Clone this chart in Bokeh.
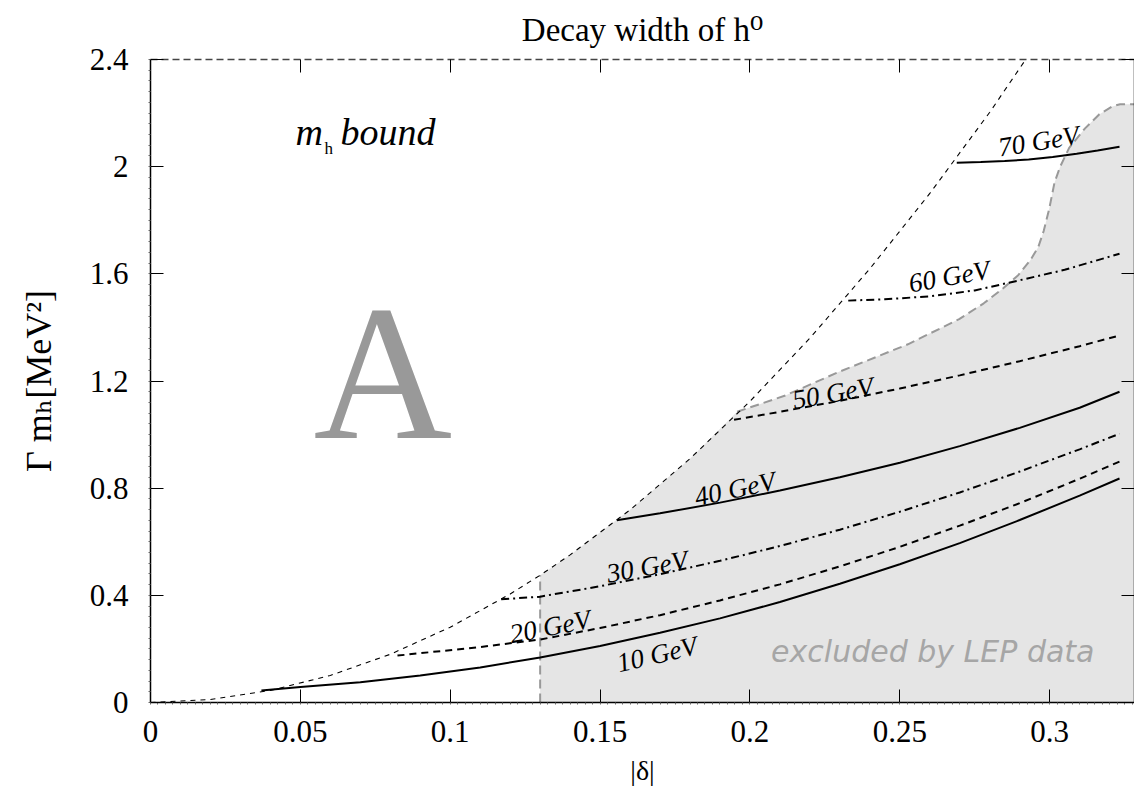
from bokeh.plotting import figure
from bokeh.models import Range1d, LinearAxis, FixedTicker, Label
from bokeh.core.properties import value
from bokeh.embed import file_html
from bokeh.resources import INLINE

# ---------------- data ----------------
x_ticks = [0, 0.05, 0.1, 0.15, 0.2, 0.25, 0.3]
x_tick_labels = ["0", "0.05", "0.1", "0.15", "0.2", "0.25", "0.3"]
y_ticks = [0, 0.4, 0.8, 1.2, 1.6, 2.0, 2.4]
y_tick_labels = ["0", "0.4", "0.8", "1.2", "1.6", "2", "2.4"]
x_max = 0.3283
y_max = 2.4

# m_h bound (thin dashed)
bound_x = [0.0, 0.02, 0.04, 0.06, 0.08, 0.1, 0.12, 0.13, 0.14, 0.16, 0.18, 0.2, 0.22, 0.24, 0.26, 0.28, 0.292]
bound_y = [0.0, 0.011, 0.045, 0.101, 0.18, 0.281, 0.405, 0.475, 0.551, 0.719, 0.91, 1.124, 1.36, 1.619, 1.9, 2.203, 2.4]

# LEP excluded region boundary
lep_edge_x = [0.13, 0.13]
lep_edge_y = [0.0, 0.475]
lep_x = [0.1957, 0.2118, 0.2299, 0.2527, 0.2698, 0.278, 0.2845, 0.2895, 0.2935, 0.2962, 0.298,
         0.2998, 0.3016, 0.3035, 0.3065, 0.3118, 0.3165, 0.3209, 0.3235, 0.3283]
lep_y = [1.085, 1.146, 1.235, 1.337, 1.431, 1.49, 1.546, 1.595, 1.65, 1.70, 1.76,
         1.84, 1.94, 2.0, 2.07, 2.143, 2.195, 2.225, 2.233, 2.233]

# curves of constant m_h
m10_x = [0.037, 0.05, 0.07, 0.09, 0.11, 0.13, 0.15, 0.17, 0.19, 0.21, 0.23, 0.25, 0.27, 0.29, 0.31, 0.3233]
m10_y = [0.045, 0.058, 0.076, 0.101, 0.131, 0.168, 0.211, 0.26, 0.314, 0.375, 0.443, 0.516, 0.595, 0.681, 0.772, 0.836]
m20_x = [0.0824, 0.09, 0.11, 0.13, 0.15, 0.17, 0.19, 0.21, 0.23, 0.25, 0.27, 0.29, 0.31, 0.3233]
m20_y = [0.175, 0.184, 0.207, 0.235, 0.278, 0.326, 0.381, 0.441, 0.508, 0.581, 0.66, 0.744, 0.835, 0.899]
m30_x = [0.117, 0.13, 0.15, 0.17, 0.19, 0.21, 0.23, 0.25, 0.27, 0.29, 0.31, 0.3233]
m30_y = [0.385, 0.395, 0.434, 0.479, 0.529, 0.584, 0.645, 0.712, 0.784, 0.862, 0.945, 1.003]
m40_x = [0.1556, 0.17, 0.19, 0.21, 0.23, 0.25, 0.27, 0.29, 0.31, 0.3233]
m40_y = [0.68, 0.706, 0.746, 0.791, 0.841, 0.895, 0.957, 1.025, 1.1, 1.16]
m50_x = [0.1947, 0.21, 0.23, 0.25, 0.27, 0.29, 0.31, 0.3233]
m50_y = [1.055, 1.085, 1.126, 1.172, 1.221, 1.274, 1.33, 1.37]
m60_x = [0.2328, 0.245, 0.26, 0.275, 0.29, 0.305, 0.3233]
m60_y = [1.5, 1.505, 1.516, 1.538, 1.576, 1.615, 1.675]
m70_x = [0.269, 0.277, 0.285, 0.293, 0.301, 0.309, 0.316, 0.3233]
m70_y = [2.015, 2.017, 2.021, 2.027, 2.036, 2.048, 2.06, 2.074]

label_text = ["10 GeV", "20 GeV", "30 GeV", "40 GeV", "50 GeV", "60 GeV", "70 GeV"]
label_x = [0.169, 0.1333, 0.1657, 0.195, 0.2277, 0.2665, 0.2963]
label_y = [0.18, 0.283, 0.507, 0.797, 1.155, 1.59, 2.095]
label_angle = [13, 11, 10, 12, 10, 10, 9]

# ---------------- figure ----------------
SERIF = "Liberation Serif"
SERIF_FB = "Liberation Serif, DejaVu Serif"
BASE = 0.33  # baseline correction factor (fraction of font size)

p = figure(width=1134, height=788,
           x_range=Range1d(0, x_max), y_range=Range1d(0, y_max),
           output_backend="svg", toolbar_location=None,
           min_border_left=150, min_border_right=0,
           min_border_top=59, min_border_bottom=85)
p.xgrid.visible = False
p.ygrid.visible = False
p.outline_line_color = None
p.background_fill_color = "white"
p.border_fill_color = "white"

p.title.text = "Decay width of h\u2070"
p.title.align = "center"
p.title.vertical_align = "top"
p.title.text_font = SERIF_FB
p.title.text_font_size = "33px"
p.title.text_font_style = "normal"
p.title.text_color = "black"
p.title.standoff = 19

x_minor = [i * 0.0025 for i in range(0, 132)]
y_minor = [i * 0.04 for i in range(0, 61)]


def style_axis(ax, ticks, labels, minor, show_labels=True):
    ax.ticker = FixedTicker(ticks=ticks, minor_ticks=minor)
    if show_labels:
        ax.major_label_overrides = {t: l for t, l in zip(ticks, labels)}
        ax.major_label_text_font_size = "31px"
    else:
        ax.major_label_overrides = {t: "" for t in ticks}
        ax.major_label_text_font_size = "0px"
        ax.major_label_standoff = 0
    ax.major_label_text_font = SERIF
    ax.major_label_text_color = "black"
    ax.major_tick_in = 13
    ax.major_tick_out = 0
    ax.major_tick_line_color = "black"
    ax.major_tick_line_width = 1
    ax.minor_tick_in = 0
    ax.minor_tick_out = 2
    ax.minor_tick_line_color = "#666666"
    ax.minor_tick_line_width = 1
    ax.axis_line_color = "black"
    ax.axis_line_width = 1.5


xa = p.xaxis[0]
style_axis(xa, x_ticks, x_tick_labels, x_minor)
xa.major_label_standoff = 16
xa.axis_label = "|\u03b4|"
xa.axis_label_text_font = SERIF
xa.axis_label_text_font_style = "normal"
xa.axis_label_text_font_size = "28px"
xa.axis_label_text_color = "black"
xa.axis_label_standoff = 10

ya = p.yaxis[0]
style_axis(ya, y_ticks, y_tick_labels, y_minor)
ya.major_label_standoff = 20
ya.axis_label = "\u0393 m\u2095[MeV\u00b2]"
ya.axis_label_text_font = SERIF_FB
ya.axis_label_text_font_style = "normal"
ya.axis_label_text_font_size = "36px"
ya.axis_label_text_color = "black"
ya.axis_label_standoff = 28

top_ax = LinearAxis()
style_axis(top_ax, x_ticks, x_tick_labels, [], show_labels=False)
top_ax.axis_line_dash = "7 4"
top_ax.axis_line_color = "#444444"
top_ax.minor_tick_out = 0
p.add_layout(top_ax, "above")

right_ax = LinearAxis()
style_axis(right_ax, y_ticks, y_tick_labels, [], show_labels=False)
right_ax.minor_tick_out = 0
p.add_layout(right_ax, "right")

# ---------------- excluded region ----------------
sel = [i for i, bx in enumerate(bound_x) if lep_edge_x[0] <= bx < lep_x[0]]
fill_x = [lep_edge_x[0]] + [bound_x[i] for i in sel] + lep_x + [x_max]
fill_y = [lep_edge_y[0]] + [bound_y[i] for i in sel] + lep_y + [0.0]
p.patch(fill_x, fill_y, fill_color="#e5e5e5", line_color=None)
p.line(lep_edge_x, lep_edge_y, line_color="#999999", line_width=2, line_dash="9 5")
p.line(lep_x, lep_y, line_color="#999999", line_width=2, line_dash="9 5")

# ---------------- bound & curves ----------------
p.line(bound_x, bound_y, line_color="black", line_width=1.1, line_dash="5 5")

SOLID = "solid"
DASH = "7 5"
DASHDOT = "8 4 2 4"
curves = [
    (m10_x, m10_y, SOLID),
    (m20_x, m20_y, DASH),
    (m30_x, m30_y, DASHDOT),
    (m40_x, m40_y, SOLID),
    (m50_x, m50_y, DASH),
    (m60_x, m60_y, DASHDOT),
    (m70_x, m70_y, SOLID),
]
for cx, cy, dash in curves:
    p.line(cx, cy, line_color="black", line_width=2, line_dash=dash)

p.text(x=label_x, y=label_y, text=label_text, angle=label_angle, angle_units="deg",
       text_font=value(SERIF), text_font_style="italic", text_font_size="27px",
       text_align="center", text_baseline="middle", text_color="black")

# ---------------- annotations ----------------
p.add_layout(Label(x=0.0775, y=0.991, y_offset=BASE * 192, text="A", text_font=SERIF,
                   text_font_size="192px", text_color="#999999", text_align="center",
                   text_baseline="alphabetic"))

p.add_layout(Label(x=0.0484, y=2.083, y_offset=BASE * 38, text="m", text_font=SERIF,
                   text_font_size="38px", text_font_style="italic", text_color="black",
                   text_baseline="alphabetic"))
p.add_layout(Label(x=0.0484, y=2.083, x_offset=29, y_offset=-10 + BASE * 17, text="h",
                   text_font=SERIF, text_font_size="17px", text_color="black",
                   text_baseline="alphabetic"))
p.add_layout(Label(x=0.0484, y=2.083, x_offset=45, y_offset=BASE * 38, text="bound",
                   text_font=SERIF, text_font_size="38px", text_font_style="italic",
                   text_color="black", text_baseline="alphabetic"))

p.add_layout(Label(x=0.261, y=0.153, y_offset=BASE * 30, text="excluded by LEP data",
                   text_font="DejaVu Sans", text_font_size="30px", text_font_style="italic",
                   text_color="#a6a6a6", text_align="center", text_baseline="alphabetic"))

open("out.html", "w").write(file_html(p, INLINE))
